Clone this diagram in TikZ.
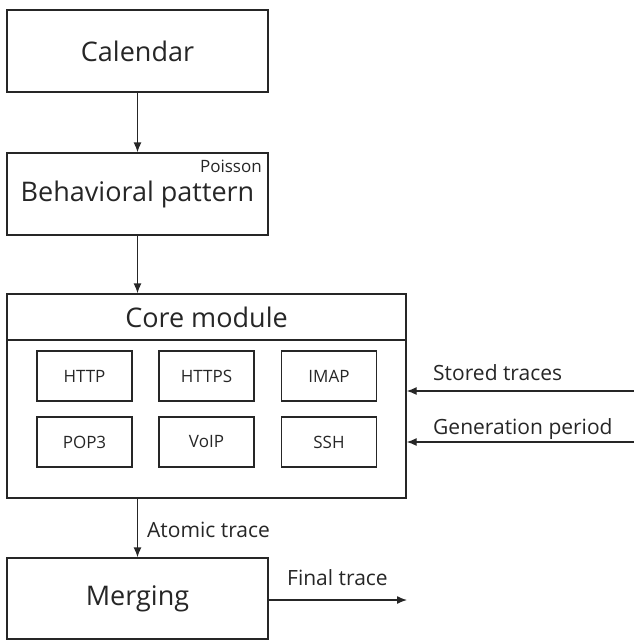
\documentclass[tikz,border=0pt]{standalone}
\usepackage{fontspec}
\setmainfont{Open Sans}
\usetikzlibrary{arrows.meta,positioning,calc}

\begin{document}
\begin{tikzpicture}[
  x=1pt, y=-1pt,
  every node/.style={text=black!85},
  big/.style={draw=black!85, line width=1.3pt, inner sep=0pt, minimum width=261pt, minimum height=82pt, font=\fontsize{27}{31}\selectfont},
  proto/.style={draw=black!85, line width=1.3pt, inner sep=0pt, minimum width=95pt, minimum height=50pt, font=\fontsize{17}{20}\selectfont},
  lab/.style={font=\fontsize{21}{24}\selectfont, anchor=base west, inner sep=0pt},
  arr/.style={-{Latex[length=10pt,width=8pt]}, line width=1.3pt, draw=black!85}
]
\useasboundingbox (0,0) rectangle (634,641);
\def\xA{84.5}\def\xB{206.5}\def\xC{329}
\def\ya{376}\def\yb{442}

% upper chain
\node[big] (cal) at (137.5,51) {Calendar};
\node[big] (beh) at (137.5,194) {Behavioral pattern};
\node[font=\fontsize{17}{20}\selectfont, anchor=base east, inner sep=0pt] (poi) at (262,172) {Poisson};

% core module
\node[draw=black!85, line width=1.3pt, inner sep=0pt, minimum width=399pt, minimum height=204pt] (core) at (206.5,396) {};
\node[draw=black!85, line width=1.3pt, inner sep=0pt, minimum width=399pt, minimum height=46pt, font=\fontsize{27}{31}\selectfont] (head) at (206.5,317) {Core module};
\node[proto] (p1) at (\xA,\ya) {HTTP};
\node[proto] (p2) at (\xB,\ya) {HTTPS};
\node[proto] (p3) at (\xC,\ya) {IMAP};
\node[proto] (p4) at (\xA,\yb) {POP3};
\node[proto] (p5) at (\xB,\yb) {VoIP};
\node[proto] (p6) at (\xC,\yb) {SSH};

% merging
\node[big, minimum height=81pt] (mrg) at (137.5,598.5) {Merging};

\draw[arr] (cal) -- (beh);
\draw[arr] (beh.south) -- (beh.south |- core.north);
\draw[arr] (core.south -| mrg.north) -- (mrg.north);
\node[lab] (atl) at (147,537) {Atomic trace};

% inputs on the right
\coordinate (sti) at (634,391);
\coordinate (gpi) at (634,442);
\draw[arr] (sti) -- (sti -| core.east);
\draw[arr] (gpi) -- (gpi -| core.east);
\node[lab] (stl) at (433,380) {Stored traces};
\node[lab] (gpl) at (433,434) {Generation period};

% output
\coordinate (fto) at (407,600);
\draw[arr] (mrg.east |- fto) -- (fto);
\node[lab] (ftl) at (287,585) {Final trace};

\end{tikzpicture}
\end{document}
